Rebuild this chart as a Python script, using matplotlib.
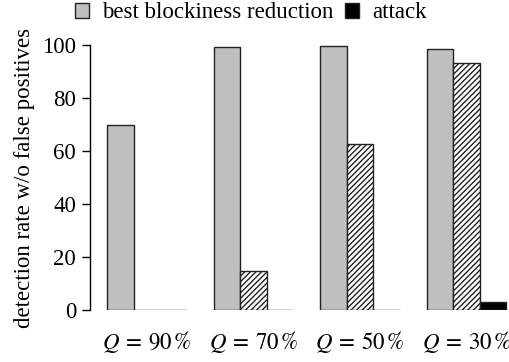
import matplotlib
matplotlib.use("Agg")
import matplotlib.pyplot as plt
import numpy as np

categories = ["$Q\\:=\\:90\\,\\%$", "$Q\\:=\\:70\\,\\%$", "$Q\\:=\\:50\\,\\%$", "$Q\\:=\\:30\\,\\%$"]
best_reduction = [70.0, 99.1, 99.6, 98.6]
hatched_series = [0.0, 14.6, 62.5, 93.2]
attack = [0.0, 0.0, 0.0, 3.1]
yticks = [0, 20, 40, 60, 80, 100]

plt.rcParams["font.family"] = ["Liberation Serif", "DejaVu Serif"]
plt.rcParams["mathtext.fontset"] = "stix"
plt.rcParams["hatch.linewidth"] = 1.0

FS = 16.5
fig = plt.figure(figsize=(5.1, 3.62), dpi=100)
ax = fig.add_axes([90/510, (362-310)/362, (508-90)/510, 265/362])

x = np.arange(len(categories))
w = 0.25
b1 = ax.bar(x - w, best_reduction, w, color="#bfbfbf", edgecolor="#222222", linewidth=1.0,
            label="best blockiness reduction")
b2 = ax.bar(x, hatched_series, w, color="white", edgecolor="#222222", linewidth=1.0,
            hatch="//////", label="_nolegend_")
b3 = ax.bar(x + w, attack, w, color="black", edgecolor="#222222", linewidth=1.0,
            label="attack")

ax.set_xlim(-0.535, 3.39)
ax.set_ylim(0, 100)
ax.set_yticks(yticks)
ax.set_xticks(x)
ax.set_xticklabels(categories, fontsize=FS)
ax.tick_params(axis="y", labelsize=FS, direction="out", length=6, width=1.0, pad=4)
ax.tick_params(axis="x", length=0, pad=14)
for s in ["top", "right", "bottom"]:
    ax.spines[s].set_visible(False)
ax.spines["left"].set_linewidth(1.0)
ax.set_ylabel("detection rate w/o false positives", fontsize=FS, labelpad=5)

leg = fig.legend(handles=[b1, b3], labels=["best blockiness reduction", "attack"],
                 loc="center", bbox_to_anchor=(251/510, 1 - 13/362), ncol=2, frameon=False,
                 fontsize=FS, handlelength=0.6, handleheight=0.6, handletextpad=0.6,
                 columnspacing=0.5, borderpad=0)

fig.savefig("out.png", dpi=100)
